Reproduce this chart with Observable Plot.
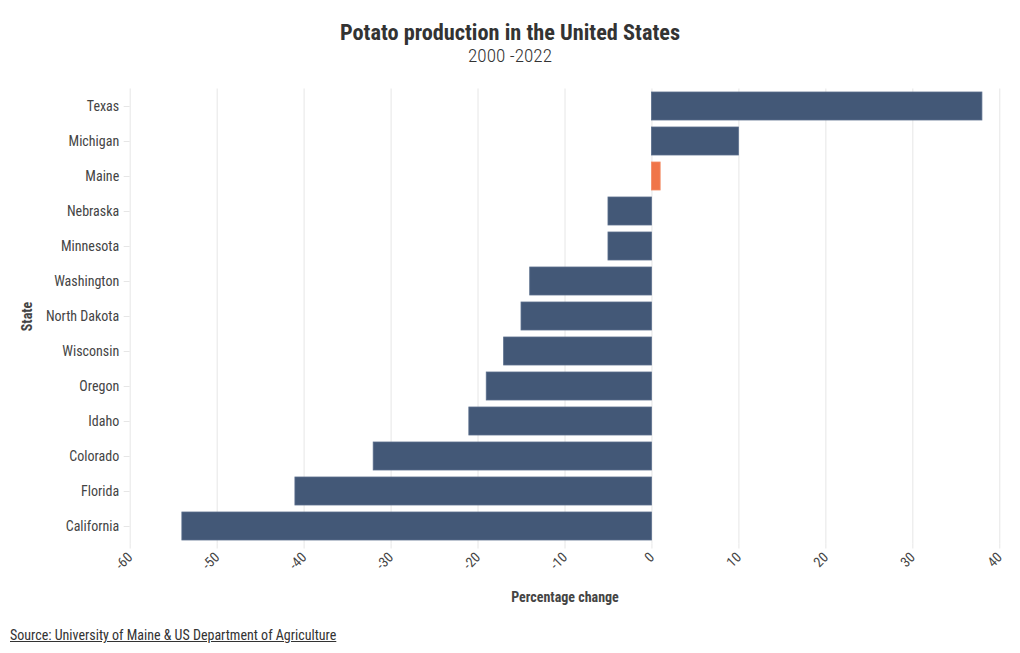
<!DOCTYPE html>
<html>
<head>
<meta charset="utf-8">
<script src="https://cdn.jsdelivr.net/npm/d3@7"></script>
<script src="https://cdn.jsdelivr.net/npm/@observablehq/plot@0.6"></script>
<style>
  body { margin: 0; background: #fff; font-family: "Roboto Condensed", "Liberation Sans Narrow", "DejaVu Sans Condensed", Roboto, sans-serif; color: #333; }
  #wrap { position: relative; width: 1020px; height: 653px; }
  #title { position: absolute; top: 19px; left: 0; width: 1020px; text-align: center; font-size: 22.3px; font-weight: bold; color: #333; }
  #subtitle { position: absolute; top: 44px; left: 0; width: 1020px; text-align: center; font-size: 19.2px; font-weight: 300; color: #333; }
  #chart { position: absolute; top: 70px; left: 0; }
  #source { position: absolute; top: 627px; left: 10px; font-size: 14px; text-decoration: underline; color: #333; }
  #chart svg { font-family: "Roboto Condensed", "Liberation Sans Narrow", "DejaVu Sans Condensed", Roboto, sans-serif; }
  g[aria-label="y-axis tick label"], g[aria-label="x-axis tick label"] { fill: #444; }
  g[aria-label="y-axis label"], g[aria-label="x-axis label"] { fill: #444; font-weight: bold; }
</style>
</head>
<body>
<div id="wrap">
  <div id="title">Potato production in the United States</div>
  <div id="subtitle">2000 -2022</div>
  <div id="chart"></div>
  <div id="source">Source: University of Maine &amp; US Department of Agriculture</div>
</div>
<script>
const states = ["Texas", "Michigan", "Maine", "Nebraska", "Minnesota", "Washington", "North Dakota", "Wisconsin", "Oregon", "Idaho", "Colorado", "Florida", "California"];
const change = [38, 10, 1, -5, -5, -14, -15, -17, -19, -21, -32, -41, -54];
const highlight = "Maine";
const xTicks = [-60, -50, -40, -30, -20, -10, 0, 10, 20, 30, 40];

const data = states.map((s, i) => ({state: s, change: change[i]}));

const chart = Plot.plot({
  width: 1020,
  height: 545,
  marginTop: 18.5,
  marginBottom: 71.5,
  marginLeft: 129.7,
  marginRight: 20.7,
  style: {fontSize: "14px", background: "#fff"},
  x: {domain: [-60, 40]},
  y: {domain: states, paddingInner: 0.2, paddingOuter: 0.1},
  marks: [
    Plot.gridX(xTicks, {stroke: "#e6e6e6", strokeOpacity: 1}),
    Plot.axisX(xTicks, {
      tickRotate: -45, tickSize: 5, tickPadding: 6, stroke: "#e6e6e6", line: true,
      label: "Percentage change", labelAnchor: "center", labelOffset: 58, labelArrow: "none",
      tickFormat: d => String(d)
    }),
    Plot.axisY({
      tickSize: 6, tickPadding: 5, stroke: "#e6e6e6", line: true,
      label: "State", labelAnchor: "center", labelOffset: 108, labelArrow: "none"
    }),
    Plot.barX(data, {
      x: "change", y: "state",
      fill: d => d.state === highlight ? "#f07549" : "#435877",
      stroke: d => d.state === highlight ? "#f28c66" : "#5a6e8c",
      strokeWidth: 0.8
    })
  ]
});
document.getElementById("chart").appendChild(chart);
</script>
</body>
</html>
